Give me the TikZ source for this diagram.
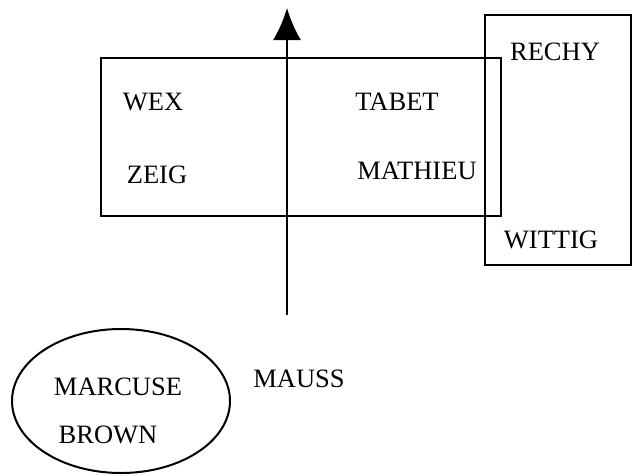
\documentclass[tikz,border=0pt]{standalone}
\usepackage{fontspec}
\setmainfont{Liberation Serif}
\usetikzlibrary{arrows.meta}
\begin{document}
\begin{tikzpicture}[x=1pt,y=-1pt,
  lbl/.style={anchor=base,inner sep=0pt,font=\fontsize{26.5}{29}\selectfont},
  frame/.style={draw=black,line width=2pt}]
\useasboundingbox (0,0) rectangle (632,475);
% main box and right box
\node[frame,minimum width=400pt,minimum height=158pt,inner sep=0pt] (main) at (301,137) {};
\node[frame,minimum width=146pt,minimum height=250pt,inner sep=0pt] (right) at (558,140) {};
% ellipse
\draw[frame] (121,401) ellipse [x radius=109, y radius=72];
\coordinate (ell) at (121,401);
% arrow
\coordinate (abot) at (287,315);
\coordinate (atop) at (287,8);
\draw[line width=2pt,-{Latex[length=32pt,width=28pt]}] (abot) -- (atop);
% labels
\node[lbl] (wex) at (153,110) {WEX};
\node[lbl] (zeig) at (157,183) {ZEIG};
\node[lbl] (tabet) at (397,110) {TABET};
\node[lbl] (mathieu) at (417,179) {MATHIEU};
\node[lbl] (rechy) at (555,60) {RECHY};
\node[lbl] (wittig) at (551,248) {WITTIG};
\node[lbl] (mauss) at (299,387) {MAUSS};
\node[lbl] (marcuse) at (118,395) {MARCUSE};
\node[lbl] (brown) at (108,443) {BROWN};
\end{tikzpicture}
\end{document}
